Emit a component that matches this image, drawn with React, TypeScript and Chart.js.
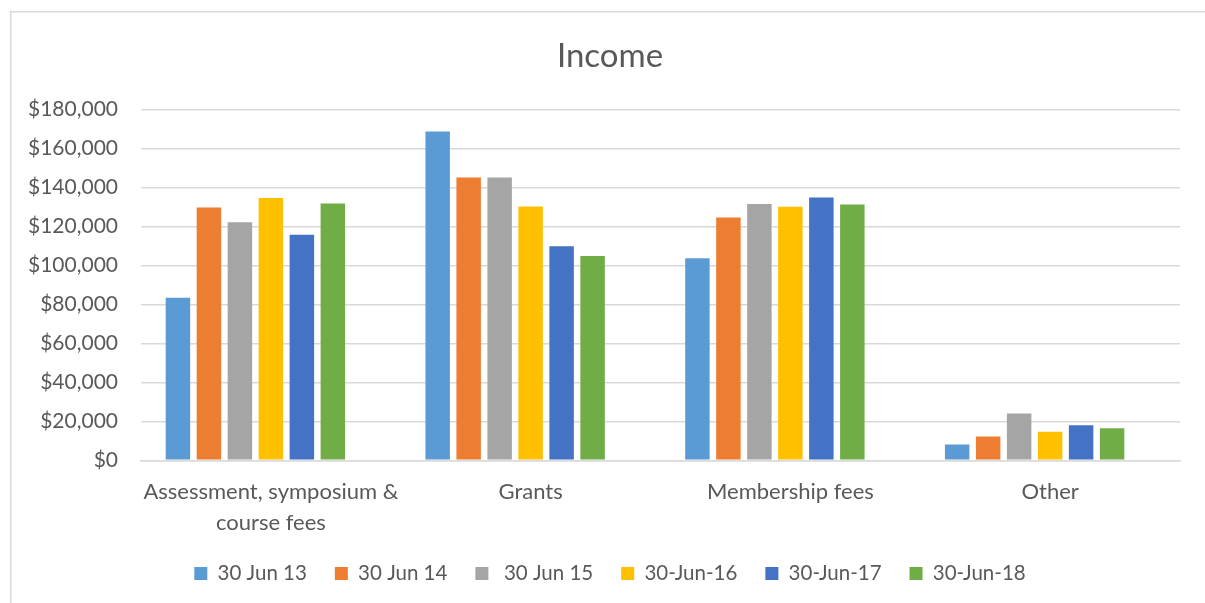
import React, { useEffect, useRef } from "react";
import { Chart, registerables } from "chart.js";

Chart.register(...registerables);

const categories: (string | string[])[] = [
  ["Assessment, symposium &", "course fees"],
  "Grants",
  "Membership fees",
  "Other",
];
const seriesLabels = ["30 Jun 13", "30 Jun 14", " 30 Jun 15", "30-Jun-16", "30-Jun-17", "30-Jun-18"];
const jun13 = [83300, 168600, 103600, 8100];
const jun14 = [129600, 145000, 124500, 12200];
const jun15 = [122100, 145000, 131500, 24000];
const jun16 = [134500, 130100, 130000, 14700];
const jun17 = [115700, 109800, 134800, 18000];
const jun18 = [131700, 104800, 131200, 16400];
const emptySeries = [null, null, null, null];
const colors = ["#5B9BD5", "#ED7D31", "#A5A5A5", "#FFC000", "#4472C4", "#70AD47"];
const yTicks = [0, 20000, 40000, 60000, 80000, 100000, 120000, 140000, 160000, 180000];

const FONT = "Lato, 'Open Sans', sans-serif";
const TEXT = "#595959";
const GRID = "#D9D9D9";

const frame = {
  id: "frame",
  beforeDraw(chart: any) {
    const { ctx, width, height } = chart;
    ctx.save();
    ctx.fillStyle = "#ffffff";
    ctx.fillRect(0, 0, width, height);
    ctx.strokeStyle = GRID;
    ctx.lineWidth = 1.5;
    ctx.strokeRect(0.75, 0.75, width + 10, height + 10);
    ctx.restore();
  },
};

export default function App() {
  const ref = useRef<HTMLCanvasElement>(null);
  useEffect(() => {
    const allSeries = [jun13, jun14, jun15, jun16, jun17, jun18];
    const datasets: any[] = allSeries.map((d, i) => ({
      label: seriesLabels[i],
      data: d,
      backgroundColor: colors[i],
      borderWidth: 0,
      yAxisID: "y",
    }));
    datasets.push({
      label: "",
      data: emptySeries,
      backgroundColor: "rgba(0,0,0,0)",
      borderWidth: 0,
      yAxisID: "y",
    });
    const chart = new Chart(ref.current!, {
      type: "bar",
      data: { labels: categories as any, datasets },
      plugins: [frame],
      options: {
        animation: false,
        responsive: false,
        devicePixelRatio: 1,
        layout: { padding: { top: 0, left: 10, right: 10, bottom: 17.3 } },
        datasets: { bar: { categoryPercentage: 0.835, barPercentage: 0.79 } },
        plugins: {
          title: {
            display: true,
            text: "Income",
            color: TEXT,
            font: { family: FONT, size: 33, weight: "normal" as any, lineHeight: 1.2 },
            padding: { top: 25.5, bottom: 33.2 },
          },
          legend: {
            position: "bottom",
            labels: {
              color: TEXT,
              font: { family: FONT, size: 20.5 },
              boxWidth: 13,
              boxHeight: 13,
              padding: 28,
              filter: (item: any) => item.text !== "",
            },
          },
          tooltip: { enabled: false },
        },
        scales: {
          x: {
            grid: { display: false, drawTicks: false },
            border: { display: true, color: GRID, width: 1.5 },
            ticks: {
              color: TEXT,
              font: { family: FONT, size: 22, lineHeight: 1.41 },
              padding: 16,
              maxRotation: 0,
              autoSkip: false,
            },
            afterFit: (s: any) => {
              s.height = 74.9;
            },
          },
          y: {
            min: 0,
            max: 180000,
            afterBuildTicks: (s: any) => {
              s.ticks = yTicks.map((v) => ({ value: v }));
            },
            grid: { color: GRID, lineWidth: 1.5, drawTicks: false },
            border: { display: false },
            ticks: {
              color: TEXT,
              font: { family: FONT, size: 21 },
              padding: 23,
              callback: (v: any) => "$" + Number(v).toLocaleString("en-US"),
            },
            afterFit: (s: any) => {
              s.width = 121;
            },
          },
          spacer: {
            type: "linear",
            position: "right",
            display: true,
            grid: { display: false, drawTicks: false },
            border: { display: false },
            ticks: { display: false },
            afterFit: (s: any) => {
              s.width = 20;
            },
          },
        },
      },
    });
    return () => chart.destroy();
  }, []);
  return (
    <div
      style={{
        position: "fixed",
        left: 0,
        top: 0,
        width: 1205,
        height: 603,
        overflow: "hidden",
        background: "#fff",
      }}
    >
      <canvas
        ref={ref}
        width={1200}
        height={600}
        style={{ position: "absolute", left: 10, top: 11, width: 1200, height: 600 }}
      />
    </div>
  );
}
